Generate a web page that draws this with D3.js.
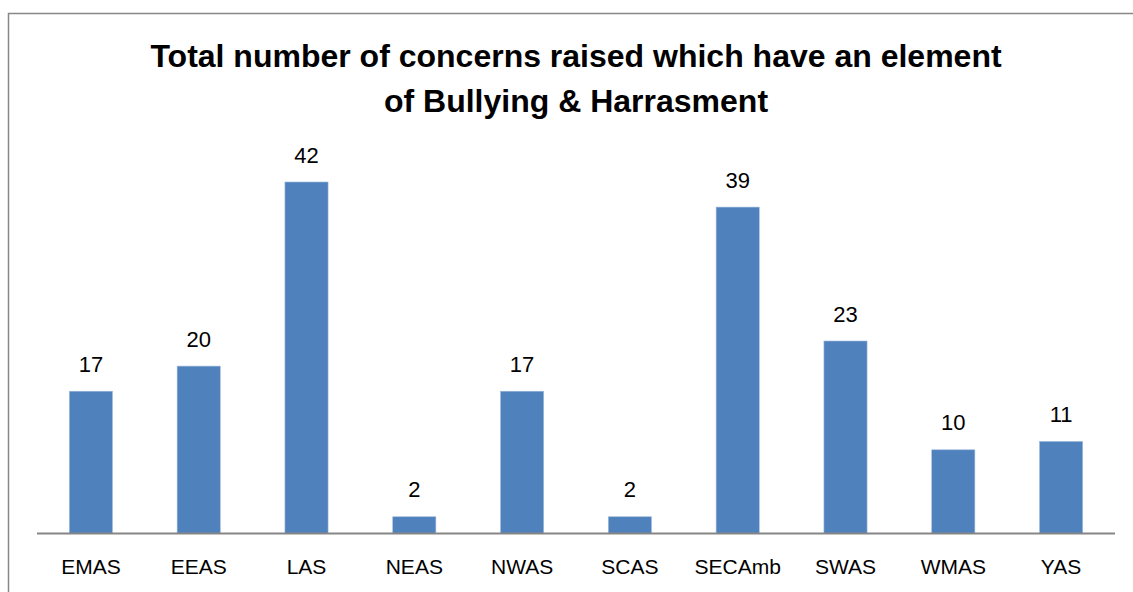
<!DOCTYPE html>
<html><head><meta charset="utf-8">
<script src="https://cdn.jsdelivr.net/npm/d3@7"></script>
<style>html,body{margin:0;padding:0;background:#fff;overflow:hidden}</style>
</head><body>
<svg id="chart" width="1133" height="592"></svg>
<script>
const categories = ["EMAS","EEAS","LAS","NEAS","NWAS","SCAS","SECAmb","SWAS","WMAS","YAS"];
const values = [17,20,42,2,17,2,39,23,10,11];
const titleLines = ["Total number of concerns raised which have an element","of Bullying & Harrasment"];

const svg = d3.select("#chart");
const font = "'Liberation Sans', Arial, sans-serif";

// outer frame
svg.append("rect").attr("x",8.5).attr("y",13.5).attr("width",1140).attr("height",600)
  .attr("fill","#fff").attr("stroke","#878787").attr("stroke-width",1.5);

const x = d3.scaleBand().domain(categories).range([37,1115]).paddingInner(0.6).paddingOuter(0.3);
const y = d3.scaleLinear().domain([0,42]).range([533.5,182]);

svg.selectAll("rect.bar").data(values).join("rect").attr("class","bar")
  .attr("x",(d,i)=>x(categories[i])).attr("width",x.bandwidth())
  .attr("y",d=>y(d)).attr("height",d=>y(0)-y(d))
  .attr("fill","#4F81BD").attr("stroke","#9DB9DC").attr("stroke-width",0.6);

// axis
const xAxis = d3.axisBottom(x).tickSize(0).tickPadding(0);
const ag = svg.append("g").attr("transform",`translate(0,${y(0)})`).call(xAxis);
ag.select(".domain").attr("stroke","#868686").attr("stroke-width",2).attr("d","M37,0H1115");
ag.selectAll(".tick text").attr("y",40.5).attr("dy",0).attr("font-family",font).attr("font-size",21).attr("fill","#000");

svg.selectAll("text.val").data(values).join("text").attr("class","val")
  .attr("x",(d,i)=>x(categories[i])+x.bandwidth()/2).attr("y",d=>y(d)-19.5)
  .attr("text-anchor","middle").attr("font-family",font).attr("font-size",22).attr("fill","#000")
  .text(d=>d);

svg.selectAll("text.title").data(titleLines).join("text").attr("class","title")
  .attr("x",576).attr("y",(d,i)=>67+i*45).attr("text-anchor","middle")
  .attr("font-family",font).attr("font-weight","bold").attr("font-size",32).attr("fill","#000")
  .text(d=>d);
</script>
</body></html>
